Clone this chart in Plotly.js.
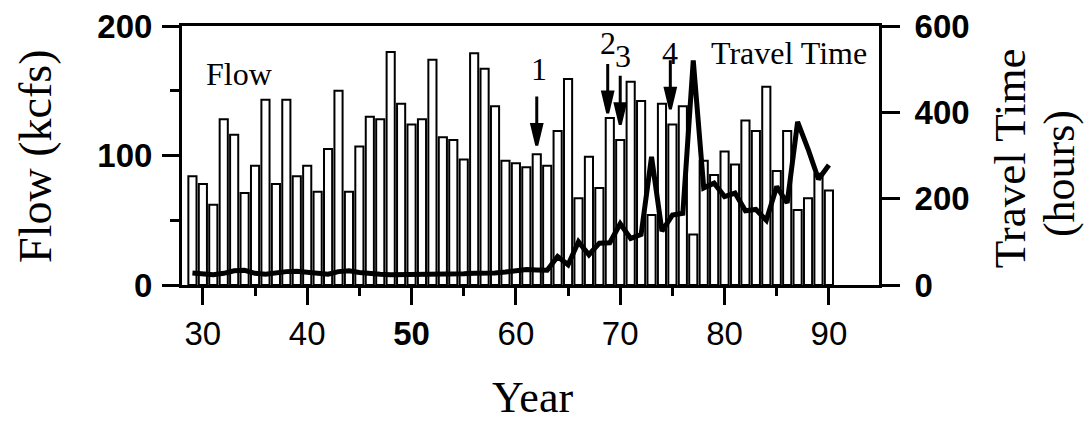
<!DOCTYPE html>
<html>
<head>
<meta charset="utf-8">
<script src="https://cdn.plot.ly/plotly-3.0.1.min.js"></script>
<style>
html,body{margin:0;padding:0;background:#fff;}
#chart{width:1088px;height:424px;}
</style>
</head>
<body>
<div id="chart"></div>
<script>
// ---- data ----
const YEARS = [29,30,31,32,33,34,35,36,37,38,39,40,41,42,43,44,45,46,47,48,49,
  50,51,52,53,54,55,56,57,58,59,60,61,62,63,64,65,66,67,68,69,
  70,71,72,73,74,75,76,77,78,79,80,81,82,83,84,85,86,87,88,89,90];
const FLOW_KCFS = [84,78,62,128,116,71,92,143,78,143,84,
  92,72,105,150,72,107,130,128,180,140,
  124,128,174,114,112,97,179,167,138,96,
  94,91,101,92,119,159,67,99,75,129,
  112,157,142,54,140,124,138,39,96,85,
  103,93,127,119,153,88,119,58,67,86,73];
const TRAVEL_HOURS = [28,26,24,27,33,34,27,25,29,31,32,
  30,27,25,31,33,29,26,25,24,24,
  25,26,26,26,25,26,27,27,28,30,
  34,36,35,34,66,47,100,70,97,98,
  142,108,117,297,125,162,166,520,225,236,
  205,213,172,175,150,228,190,378,315,245,278];
const X_TICKS = [30,40,50,60,70,80,90];
const X_TICK_TEXT = ['30','40','<b>50</b>','60','70','80','90'];
const X_MINOR = [35,45,55,65,75,85];
// event markers: label, year, flow level (kcfs) the arrow points to, label position
const EVENT_LABELS = ['1','2','3','4'];
const EVENT_YEARS = [62,68.8,70.0,74.8];
const EVENT_TIPS = [107,132,123,135];
const EVENT_LABEL_X = [62.2,68.85,70.3,74.8];
const EVENT_LABEL_Y = [167,187,177,179];

const serif = 'Liberation Serif, Times New Roman, serif';
const sans = 'Liberation Sans, Arial, sans-serif';

const traces = [
  {type:'bar', x:YEARS, y:FLOW_KCFS, width:0.78,
   marker:{color:'#ffffff', line:{color:'#000', width:2}}, yaxis:'y', showlegend:false},
  {type:'scatter', mode:'lines', x:YEARS, y:TRAVEL_HOURS, yaxis:'y2',
   line:{color:'#000', width:5}, showlegend:false}
];

const shapes = EVENT_YEARS.map((yr,i)=>({
  type:'path', xref:'x', yref:'y', xsizemode:'pixel', ysizemode:'pixel',
  xanchor:yr, yanchor:EVENT_TIPS[i],
  path:'M0,50 L0,20 M-5,22 L5,22 L0,1 Z',
  fillcolor:'#000', line:{color:'#000', width:3}, layer:'above'
}));

function ann(o){ return Object.assign({showarrow:false, xanchor:'center', yanchor:'middle'}, o); }

const annotations = [
  ann({xref:'paper', yref:'paper', x:-0.21, y:0.497, text:'Flow (kcfs)', textangle:-90,
   font:{family:serif, size:46, color:'#000'}}),
  ann({xref:'paper', yref:'paper', x:1.188, y:0.49, text:'Travel Time', textangle:-90,
   font:{family:serif, size:45, color:'#000'}}),
  ann({xref:'paper', yref:'paper', x:1.26, y:0.429, text:'(hours)', textangle:-90,
   font:{family:serif, size:44, color:'#000'}}),
  ann({xref:'paper', yref:'paper', x:0.503, y:-0.436, text:'Year',
   font:{family:serif, size:44, color:'#000'}}),
  ann({xref:'paper', yref:'paper', x:0.082, y:0.815, text:'Flow',
   font:{family:serif, size:32, color:'#000'}}),
  ann({xref:'paper', yref:'paper', x:0.871, y:0.896, text:'Travel Time',
   font:{family:serif, size:32, color:'#000'}})
].concat(EVENT_LABELS.map((t,i)=>ann({
  xref:'x', yref:'y', x:EVENT_LABEL_X[i], y:EVENT_LABEL_Y[i], text:t,
  font:{family:serif, size:32, color:'#000'}
})));

const layout = {
  width:1088, height:424,
  margin:{l:182, r:209, t:26, b:139, pad:0},
  paper_bgcolor:'#fff', plot_bgcolor:'#fff',
  bargap:0,
  xaxis:{range:[28,94.8], tickmode:'array', tickvals:X_TICKS, ticktext:X_TICK_TEXT,
    ticks:'outside', ticklen:17, tickwidth:3, tickcolor:'#000',
    minor:{tickmode:'array', tickvals:X_MINOR, ticks:'outside', ticklen:8, tickwidth:3, tickcolor:'#000'},
    showline:true, linewidth:3, linecolor:'#000', mirror:true,
    showgrid:false, zeroline:false, fixedrange:true,
    tickfont:{family:sans, size:33, color:'#000'}},
  yaxis:{range:[0,200], tickmode:'linear', tick0:0, dtick:100,
    ticks:'outside', ticklen:17, tickwidth:3, tickcolor:'#000',
    minor:{dtick:50, tick0:0, ticks:'outside', ticklen:9, tickwidth:3, tickcolor:'#000'},
    showline:true, linewidth:3, linecolor:'#000',
    showgrid:false, zeroline:false, ticklabelstandoff:3,
    tickfont:{family:sans, size:33, color:'#000', weight:'bold'}},
  yaxis2:{range:[0,600], overlaying:'y', side:'right', tickmode:'linear', tick0:0, dtick:200,
    ticks:'outside', ticklen:18, tickwidth:3, tickcolor:'#000',
    showline:true, linewidth:3, linecolor:'#000',
    showgrid:false, zeroline:false, ticklabelstandoff:8,
    tickfont:{family:sans, size:33, color:'#000', weight:'bold'}},
  shapes:shapes,
  annotations:annotations
};

Plotly.newPlot('chart', traces, layout, {staticPlot:true, displayModeBar:false});
</script>
</body>
</html>
